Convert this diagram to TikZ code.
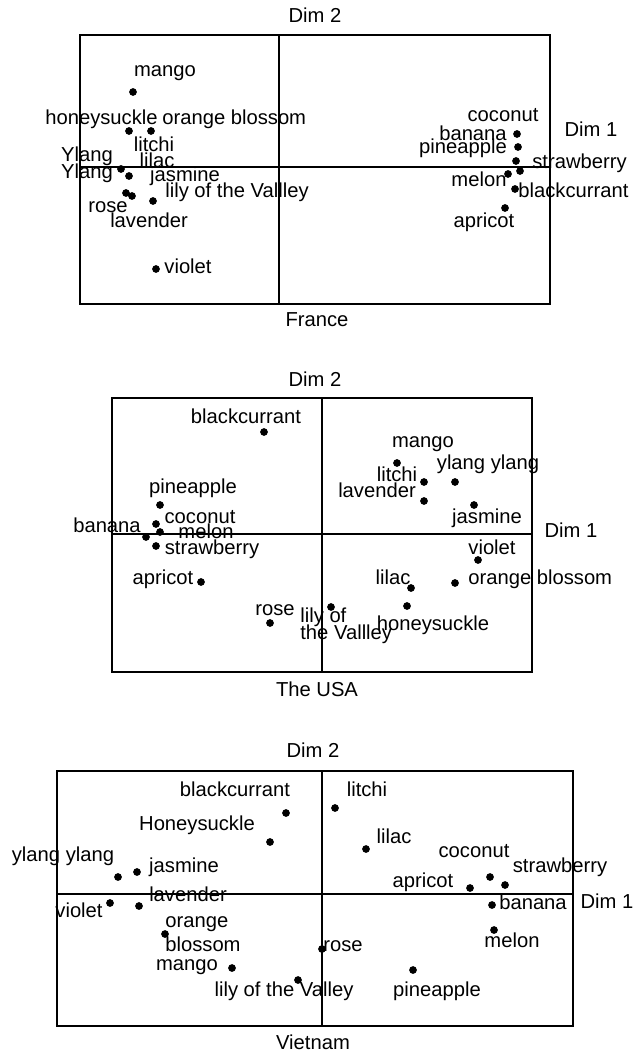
\documentclass[tikz,border=0pt]{standalone}
\usepackage{fontspec}
\setmainfont{Liberation Sans}
\usepackage{tikz}
\usetikzlibrary{positioning}
\tikzset{
    pt/.style={
                circle,
                fill=black,
                inner sep=0pt,
                minimum size=4.4pt
            },
        lbl/.style={
                inner sep=0pt,
                text height=0.72em,
                text depth=0.2em,
                font=\fontsize{11.5}{13}\selectfont
            },
        frame/.style={
                draw=black,
                line width=0.6pt
            },
}

\begin{document}
\begin{tikzpicture}[x=0.02cm,y=-0.02cm]
  \useasboundingbox (0,0) rectangle (640,1053);
  % France
  \draw[frame] (80,35) rectangle (550,304);
  \draw[frame] (279,35) -- (279,304);
  \draw[frame] (80,167) -- (550,167);
  \node[lbl] (fr-dim2) at (315,18) {Dim 2};
  \node[lbl] (fr-dim1) at (591,132) {Dim 1};
  \node[lbl] (fr-title) at (317,322) {France};
  \node[pt] (fr-mango) at (133,92) {};
  \node[pt] (fr-honeysuckle) at (129,131) {};
  \node[pt] (fr-orange) at (151,131) {};
  \node[pt] (fr-ylang) at (121,169) {};
  \node[pt] (fr-jasmine) at (129,176) {};
  \node[pt] (fr-rose) at (126,193) {};
  \node[pt] (fr-lavender) at (132,196) {};
  \node[pt] (fr-lily) at (153,201) {};
  \node[pt] (fr-violet) at (156,269) {};
  \node[pt] (fr-coconut) at (517,134) {};
  \node[pt] (fr-banana) at (518,147) {};
  \node[pt] (fr-pineapple) at (516,161) {};
  \node[pt] (fr-strawberry) at (520,171) {};
  \node[pt] (fr-melon) at (508,174) {};
  \node[pt] (fr-blackcurrant) at (515,189) {};
  \node[pt] (fr-apricot) at (505,208) {};
  \node[lbl] (fr-mango-l) at (165,72) {mango};
  \node[lbl,anchor=west] (fr-honeysuckle-l) at (45,120) {honeysuckle};
  \node[lbl,anchor=west] (fr-orange-l) at (162,120) {orange blossom};
  \node[lbl] (fr-litchi-l) at (154,147) {litchi};
  \node[lbl] (fr-ylang-l) at (87,157) {Ylang};
  \node[lbl] (fr-lilac-l) at (157,163) {lilac};
  \node[lbl] (fr-ylang2-l) at (87,174) {Ylang};
  \node[lbl] (fr-jasmine-l) at (185,177) {jasmine};
  \node[lbl] (fr-lily-l) at (237,193) {lily of the Vallley};
  \node[lbl] (fr-rose-l) at (108,208) {rose};
  \node[lbl] (fr-lavender-l) at (149,223) {lavender};
  \node[lbl] (fr-violet-l) at (188,269) {violet};
  \node[lbl] (fr-coconut-l) at (503,117) {coconut};
  \node[lbl] (fr-banana-l) at (473,136) {banana};
  \node[lbl] (fr-pineapple-l) at (463,149) {pineapple};
  \node[lbl,anchor=west] (fr-strawberry-l) at (532,164) {strawberry};
  \node[lbl] (fr-melon-l) at (479,182) {melon};
  \node[lbl,anchor=west] (fr-blackcurrant-l) at (518,193) {blackcurrant};
  \node[lbl] (fr-apricot-l) at (484,223) {apricot};
  % The USA
  \draw[frame] (112,398) rectangle (532,672);
  \draw[frame] (322,398) -- (322,672);
  \draw[frame] (112,534) -- (532,534);
  \node[lbl] (us-dim2) at (315,382) {Dim 2};
  \node[lbl] (us-dim1) at (571,533) {Dim 1};
  \node[lbl] (us-title) at (317,692) {The USA};
  \node[pt] (us-blackcurrant) at (264,432) {};
  \node[pt] (us-pineapple) at (160,505) {};
  \node[pt] (us-coconut) at (156,524) {};
  \node[pt] (us-melon) at (160,532) {};
  \node[pt] (us-banana) at (146,537) {};
  \node[pt] (us-strawberry) at (156,546) {};
  \node[pt] (us-apricot) at (201,582) {};
  \node[pt] (us-rose) at (270,623) {};
  \node[pt] (us-lily) at (331,607) {};
  \node[pt] (us-mango) at (397,463) {};
  \node[pt] (us-litchi) at (424,482) {};
  \node[pt] (us-lavender) at (424,501) {};
  \node[pt] (us-ylang) at (455,482) {};
  \node[pt] (us-jasmine) at (474,505) {};
  \node[pt] (us-violet) at (478,560) {};
  \node[pt] (us-orange) at (455,583) {};
  \node[pt] (us-lilac) at (411,588) {};
  \node[pt] (us-honeysuckle) at (407,606) {};
  \node[lbl] (us-blackcurrant-l) at (246,419) {blackcurrant};
  \node[lbl] (us-pineapple-l) at (193,489) {pineapple};
  \node[lbl] (us-coconut-l) at (200,519) {coconut};
  \node[lbl] (us-melon-l) at (206,534) {melon};
  \node[lbl] (us-banana-l) at (107,528) {banana};
  \node[lbl] (us-strawberry-l) at (212,550) {strawberry};
  \node[lbl] (us-apricot-l) at (163,580) {apricot};
  \node[lbl] (us-rose-l) at (275,611) {rose};
  \node[lbl,anchor=west] (us-lily-l) at (300,618) {lily of};
  \node[lbl,anchor=west] (us-lily2-l) at (300,635) {the Vallley};
  \node[lbl] (us-mango-l) at (423,443) {mango};
  \node[lbl] (us-litchi-l) at (397,477) {litchi};
  \node[lbl] (us-lavender-l) at (377,493) {lavender};
  \node[lbl] (us-ylang-l) at (488,465) {ylang ylang};
  \node[lbl] (us-jasmine-l) at (487,519) {jasmine};
  \node[lbl] (us-violet-l) at (492,550) {violet};
  \node[lbl,anchor=west] (us-orange-l) at (468,580) {orange blossom};
  \node[lbl] (us-lilac-l) at (393,580) {lilac};
  \node[lbl] (us-honeysuckle-l) at (433,626) {honeysuckle};
  % Vietnam
  \draw[frame] (57,771) rectangle (573,1026);
  \draw[frame] (322,771) -- (322,1026);
  \draw[frame] (57,894) -- (573,894);
  \node[lbl] (vn-dim2) at (313,753) {Dim 2};
  \node[lbl] (vn-dim1) at (607,904) {Dim 1};
  \node[lbl] (vn-title) at (313,1045) {Vietnam};
  \node[pt] (vn-blackcurrant) at (286,813) {};
  \node[pt] (vn-honeysuckle) at (270,842) {};
  \node[pt] (vn-ylang) at (118,877) {};
  \node[pt] (vn-jasmine) at (137,872) {};
  \node[pt] (vn-violet) at (110,903) {};
  \node[pt] (vn-lavender) at (139,906) {};
  \node[pt] (vn-orange) at (165,934) {};
  \node[pt] (vn-mango) at (232,968) {};
  \node[pt] (vn-lily) at (298,980) {};
  \node[pt] (vn-rose) at (322,949) {};
  \node[pt] (vn-litchi) at (335,808) {};
  \node[pt] (vn-lilac) at (366,849) {};
  \node[pt] (vn-coconut) at (490,877) {};
  \node[pt] (vn-strawberry) at (505,885) {};
  \node[pt] (vn-apricot) at (470,888) {};
  \node[pt] (vn-banana) at (492,905) {};
  \node[pt] (vn-melon) at (494,930) {};
  \node[pt] (vn-pineapple) at (413,970) {};
  \node[lbl] (vn-blackcurrant-l) at (235,792) {blackcurrant};
  \node[lbl] (vn-honeysuckle-l) at (197,826) {Honeysuckle};
  \node[lbl] (vn-ylang-l) at (63,857) {ylang ylang};
  \node[lbl] (vn-jasmine-l) at (184,868) {jasmine};
  \node[lbl] (vn-lavender-l) at (188,897) {lavender};
  \node[lbl] (vn-violet-l) at (79,913) {violet};
  \node[lbl,anchor=west] (vn-orange-l) at (165,923) {orange};
  \node[lbl,anchor=west] (vn-orange2-l) at (165,947) {blossom};
  \node[lbl] (vn-mango-l) at (187,966) {mango};
  \node[lbl] (vn-lily-l) at (284,992) {lily of the Valley};
  \node[lbl] (vn-litchi-l) at (367,792) {litchi};
  \node[lbl] (vn-lilac-l) at (394,839) {lilac};
  \node[lbl] (vn-coconut-l) at (474,853) {coconut};
  \node[lbl] (vn-strawberry-l) at (560,868) {strawberry};
  \node[lbl] (vn-apricot-l) at (423,883) {apricot};
  \node[lbl] (vn-banana-l) at (533,905) {banana};
  \node[lbl] (vn-melon-l) at (512,943) {melon};
  \node[lbl] (vn-rose-l) at (343,947) {rose};
  \node[lbl] (vn-pineapple-l) at (437,992) {pineapple};
\end{tikzpicture}
\end{document}
